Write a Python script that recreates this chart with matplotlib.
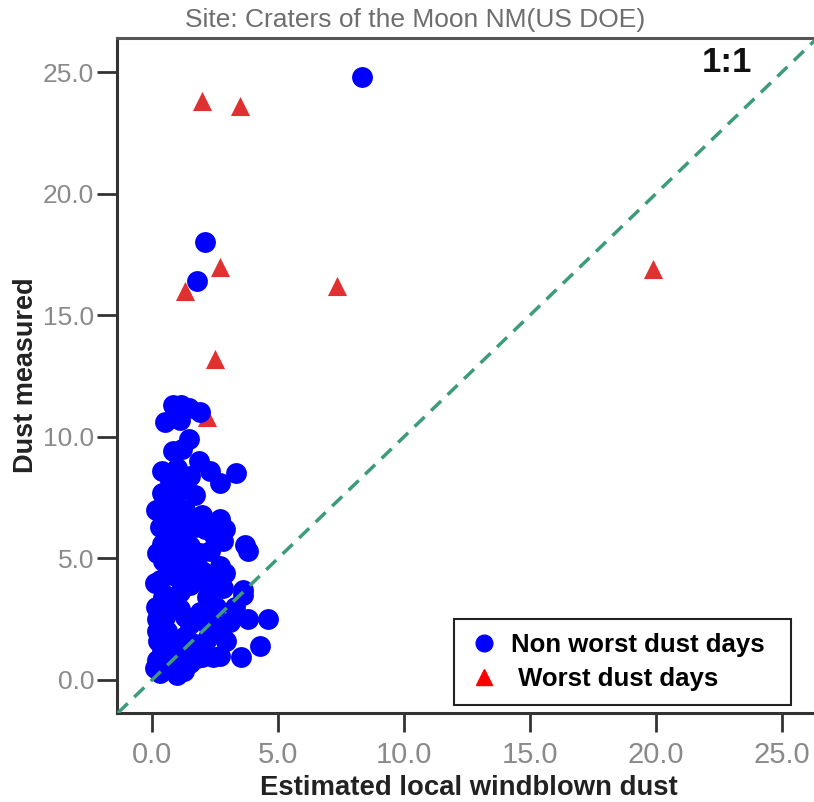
import matplotlib
matplotlib.use('Agg')
import matplotlib.pyplot as plt
from matplotlib.lines import Line2D

# ---- data ----
non_worst_x = [8.35, 2.1, 1.8,
               0.85, 1.15, 1.45, 1.9, 0.5, 1.1, 1.45, 1.2, 0.85, 1.85, 0.4, 1.0, 2.3, 1.5, 3.35, 2.7,
               0.4, 1.0, 0.45, 0.6, 1.1, 2.7, 0.3, 0.75, 1.3, 2.9, 2.4, 1.0, 2.8, 3.7, 3.8, 0.4, 0.8,
               1.5, 1.9, 2.3, 0.45, 1.2, 2.7, 0.9, 1.6, 0.3, 1.0, 1.8, 2.4, 0.1, 3.6, 1.1, 2.8, 1.5,
               0.5, 3.6, 4.6, 3.8, 3.1, 4.3, 3.55, 2.95, 2.2, 1.8, 1.25, 0.3, 0.2, 0.25, 0.7, 2.0, 1.5,
               1.1, 2.55, 0.45, 2.2, 1.8, 2.4, 0.6, 1.0, 1.3, 0.9, 1.9, 0.2, 0.8, 1.5, 2.6, 3.3, 0.4,
               1.2, 0.1, 0.15, 0.2, 0.15, 0.2,
               0.7, 1.3, 1.7, 2.0, 0.6, 1.4, 2.0, 0.7, 2.9, 1.3, 2.2, 0.5, 1.6, 2.7, 1.0, 0.5,
               2.1, 1.7, 1.3, 0.7]
non_worst_y = [24.8, 18.0, 16.4,
               11.3, 11.3, 11.2, 11.0, 10.6, 10.7, 9.9, 9.5, 9.4, 9.0, 8.6, 8.7, 8.6, 8.4, 8.5, 8.1,
               7.7, 7.7, 7.2, 6.9, 6.6, 6.6, 6.3, 6.2, 6.1, 6.2, 6.0, 5.9, 5.7, 5.55, 5.3, 5.6, 5.4,
               5.5, 5.2, 5.3, 4.9, 4.9, 4.7, 4.6, 4.6, 4.1, 4.25, 4.1, 4.0, 4.0, 3.7, 3.6, 3.8, 3.9,
               3.5, 3.5, 2.5, 2.5, 2.4, 1.4, 0.95, 1.6, 1.7, 0.9, 0.35, 0.3, 2.5, 1.6, 0.95, 0.95, 2.3,
               2.9, 3.0, 3.4, 3.4, 1.2, 0.95, 2.0, 1.5, 2.6, 3.1, 2.8, 0.8, 0.5, 0.7, 2.2, 3.0, 1.2,
               1.1, 0.5, 7.0, 5.2, 3.0, 2.0,
               7.3, 7.0, 6.3, 6.8, 4.3, 4.3, 4.5, 3.0, 4.4, 1.8, 2.3, 2.6, 1.5, 1.0, 0.2, 0.7,
               6.2, 7.6, 8.0, 8.2]
worst_x = [2.0, 3.5, 2.7, 1.3, 7.35, 19.9, 2.5, 2.2]
worst_y = [23.8, 23.6, 17.0, 16.0, 16.2, 16.9, 13.2, 10.8]

tick_values = [0, 5, 10, 15, 20, 25]
tick_labels = ['0.0', '5.0', '10.0', '15.0', '20.0', '25.0']
legend_labels = ['Non worst dust days', ' Worst dust days']

SANS = ['Liberation Sans', 'DejaVu Sans']

W, H = 814, 802
fig = plt.figure(figsize=(W / 100, H / 100), dpi=100)
fig.patch.set_facecolor('white')
ax = fig.add_axes([117 / W, 1 - 713 / H, (816 - 117) / W, (713 - 38) / H])

ax.scatter(worst_x, worst_y, marker='^', s=190, color='#E0302F', linewidths=0, zorder=2)
ax.scatter(non_worst_x, non_worst_y, marker='o', s=225, color='#0000FF', linewidths=0, zorder=3)
ax.axline((0, 0), slope=1, color='#3C9C7A', lw=2.5, ls=(0, (4, 2.6)), zorder=4)

ax.set_xlim(-1.39, 26.35)
ax.set_ylim(-1.36, 26.4)

ax.set_xticks(tick_values)
ax.set_xticklabels(tick_labels, family=SANS)
ax.set_yticks(tick_values)
ax.set_yticklabels(tick_labels, family=SANS)
ax.tick_params(axis='y', length=14.4, width=2, color='#333333', labelcolor='#8a8a8a',
               labelsize=19, pad=2)
ax.tick_params(axis='x', length=13.5, width=2, color='#333333', labelcolor='#8a8a8a',
               labelsize=21, pad=7)

for s in ['left', 'bottom']:
    ax.spines[s].set_linewidth(2.2)
    ax.spines[s].set_color('#333333')
ax.spines['top'].set_linewidth(2.2)
ax.spines['top'].set_color('#555555')
ax.spines['right'].set_visible(False)

ax.text(22.8, 25.4, '1:1', fontsize=25, fontweight='bold', ha='center', va='center',
        family=SANS, color='#111111')

fig.text(415 / W, 1 - 20 / H, 'Site: Craters of the Moon NM(US DOE)', ha='center', va='center',
         fontsize=19, color='#6e6e6e', family=SANS)
fig.text(469 / W, 1 - 788 / H, 'Estimated local windblown dust', ha='center', va='center',
         fontsize=19.8, fontweight='bold', color='#222222', family=SANS)
fig.text(26 / W, 1 - 375 / H, 'Dust measured', ha='center', va='center', rotation=90,
         fontsize=19.5, fontweight='bold', color='#222222', family=SANS)

handles = [Line2D([], [], ls='', marker='o', color='#0000FF', markersize=12),
           Line2D([], [], ls='', marker='^', color='#FF0000', markersize=11)]
leg = ax.legend(handles, legend_labels, loc='lower left', mode='expand',
                bbox_to_anchor=(454 / W, 1 - 705 / H, 337 / W, 85 / H),
                bbox_transform=fig.transFigure,
                frameon=True, fancybox=False, edgecolor='#222222', framealpha=1,
                prop=dict(family=SANS, weight='bold', size=18.5),
                borderpad=0.55, handletextpad=0.45, labelspacing=0.38, handlelength=1.2,
                borderaxespad=0)
leg.get_frame().set_linewidth(1.5)
leg.set_zorder(10)

fig.savefig('out.png', dpi=100, facecolor='white')
